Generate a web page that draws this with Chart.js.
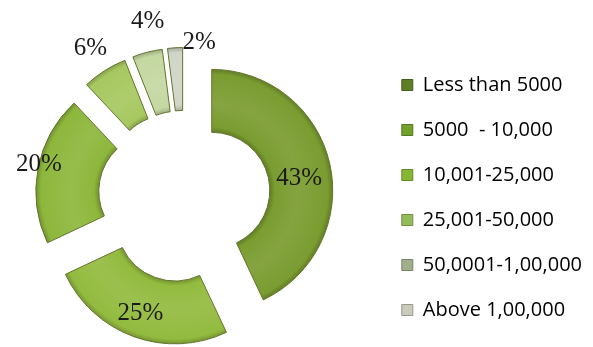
<!DOCTYPE html>
<html>
<head>
<meta charset="utf-8">
<script src="https://cdn.jsdelivr.net/npm/chart.js@4.4.1/dist/chart.umd.min.js"></script>
<style>
  body { margin: 0; background: #fff; overflow: hidden; }
  #wrap { width: 601px; height: 347px; margin-left: -8px; position: relative; }
</style>
</head>
<body>
<div id="wrap"><canvas id="incomeChart"></canvas></div>
<script>
// income brackets and their share of respondents (%)
const categories = ['Less than 5000', '5000  - 10,000', '10,001-25,000', '25,001-50,000', '50,0001-1,00,000', 'Above 1,00,000'];
const shares = [43, 25, 20, 6, 4, 2];

const sliceColors = ['#7a9c30', '#93bb3f', '#8db73c', '#a7c860', '#c4d8a2', '#ced6c8'];
const legendColors = ['#5f7f26', '#72a02a', '#86b632', '#94bc5a', '#a3ae8c', '#cbcbbd'];

const RADIUS = 121;
const CUTOUT = 0.48;
const EXPLODE = 28; // px every slice is pulled away from the centre

// where each percentage sits: t = position across the ring (0 inner, 1 outer), da = angle nudge in degrees
const labelT = [0.48, 0.62, 1.0, 1.42, 1.48, 1.1];
const labelDa = [5, 1, 2, 0, 3, 11];

function shade(hex, amt) {
  const n = parseInt(hex.slice(1), 16);
  let r = n >> 16, g = (n >> 8) & 255, b = n & 255;
  const t = amt < 0 ? 0 : 255, p = Math.abs(amt);
  r = Math.round(r + (t - r) * p);
  g = Math.round(g + (t - g) * p);
  b = Math.round(b + (t - b) * p);
  return `rgb(${r},${g},${b})`;
}

// soft bevel across the ring width
function bevel(c) {
  const base = sliceColors[c.dataIndex];
  const area = c.chart.chartArea;
  if (!area) return base;
  const cx = (area.left + area.right) / 2, cy = (area.top + area.bottom) / 2;
  const g = c.chart.ctx.createRadialGradient(cx, cy, RADIUS * CUTOUT, cx, cy, RADIUS);
  g.addColorStop(0, shade(base, -0.2));
  g.addColorStop(0.08, base);
  g.addColorStop(0.45, shade(base, 0.08));
  g.addColorStop(0.92, base);
  g.addColorStop(1, shade(base, -0.2));
  return g;
}

// draw every arc shifted straight out along its middle angle (exploded ring)
const explode = {
  id: 'explode',
  beforeDatasetDraw(chart, args) {
    const ctx = chart.ctx;
    args.meta.data.forEach(arc => {
      const mid = (arc.startAngle + arc.endAngle) / 2;
      ctx.save();
      ctx.translate(Math.cos(mid) * EXPLODE, Math.sin(mid) * EXPLODE);
      arc.draw(ctx);
      ctx.restore();
    });
    return false;
  }
};

const percentLabels = {
  id: 'percentLabels',
  afterDatasetsDraw(chart) {
    const ctx = chart.ctx;
    const meta = chart.getDatasetMeta(0);
    ctx.save();
    ctx.font = '25px "Liberation Serif", serif';
    ctx.fillStyle = '#1b1b1b';
    ctx.textAlign = 'center';
    ctx.textBaseline = 'middle';
    meta.data.forEach((arc, i) => {
      const mid = (arc.startAngle + arc.endAngle) / 2;
      const ox = Math.cos(mid) * EXPLODE, oy = Math.sin(mid) * EXPLODE;
      const ang = mid + labelDa[i] * Math.PI / 180;
      const r = arc.innerRadius + labelT[i] * (arc.outerRadius - arc.innerRadius);
      ctx.fillText(shares[i] + '%', arc.x + ox + Math.cos(ang) * r, arc.y + oy + Math.sin(ang) * r);
    });
    ctx.restore();
  }
};

new Chart(document.getElementById('incomeChart'), {
  type: 'doughnut',
  data: {
    labels: categories,
    datasets: [{
      data: shares,
      backgroundColor: bevel,
      borderColor: '#62752c',
      borderWidth: 1,
      hoverOffset: 0
    }]
  },
  options: {
    responsive: true,
    maintainAspectRatio: false,
    animation: false,
    radius: RADIUS,
    cutout: (CUTOUT * 100) + '%',
    layout: { padding: { top: 46, left: 0, right: 1, bottom: -2 } },
    plugins: {
      tooltip: { enabled: false },
      legend: {
        position: 'right',
        labels: {
          boxWidth: 11,
          boxHeight: 11,
          padding: 25,
          color: '#1e1e1e',
          font: { family: '"Open Sans", sans-serif', size: 20 },
          generateLabels: () => categories.map((text, i) => ({
            text,
            fillStyle: legendColors[i],
            strokeStyle: shade(legendColors[i], -0.25),
            lineWidth: 1,
            hidden: false,
            index: i
          }))
        }
      }
    }
  },
  plugins: [explode, percentLabels]
});
</script>
</body>
</html>
